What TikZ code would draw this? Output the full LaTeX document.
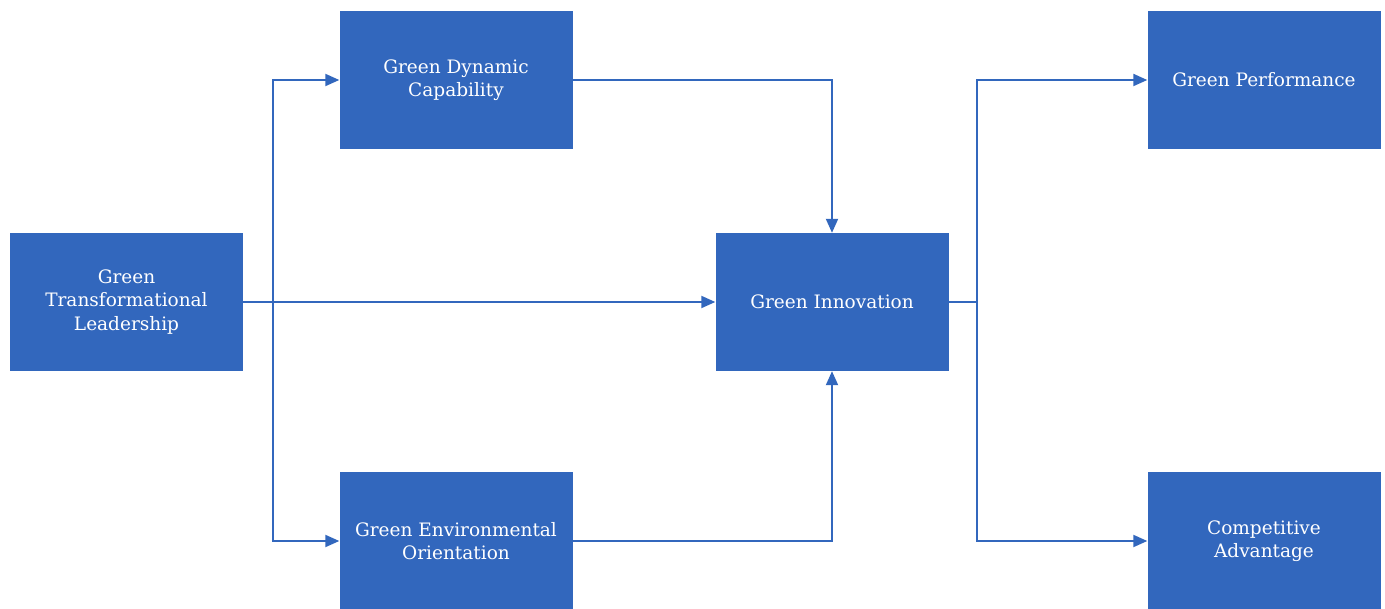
\documentclass[tikz,border=0pt]{standalone}
\usepackage{fontspec}
\setmainfont{DejaVu Serif}
\usetikzlibrary{arrows.meta}
\definecolor{boxblue}{RGB}{50,103,189}

\begin{document}
\begin{tikzpicture}[x=1pt,y=-1pt,
    construct/.style={rectangle,fill=boxblue,draw=none,minimum width=233pt,minimum height=138pt,
      text=white,align=center,font=\fontsize{18.5}{23.5}\selectfont},
    link/.style={draw=boxblue,line width=2pt,-{Triangle[length=14pt,width=12pt]}}]
  \useasboundingbox (0,0) rectangle (1385,609);
  % constructs
  \node [construct] (gtl) at (126.5,302) {Green\\Transformational\\Leadership};
  \node [construct] (gdc) at (456,80) {Green Dynamic\\Capability};
  \node [construct] (geo) at (456,541) {Green Environmental\\Orientation};
  \node [construct] (gi) at (832,302) {Green Innovation};
  \node [construct] (gp) at (1264,80) {Green Performance};
  \node [construct] (ca) at (1264,541) {Competitive\\Advantage};
  % branch points
  \coordinate (split) at (273,302);
  \coordinate (fork) at (977,302);
  % paths
  \draw [link] (gtl.east) -- (gi.west);
  \draw [link] (split) |- (gdc.west);
  \draw [link] (split) |- (geo.west);
  \draw [link] (gdc.east) -| (gi.north);
  \draw [link] (geo.east) -| (gi.south);
  \draw [draw=boxblue,line width=2pt] (gi.east) -- (fork);
  \draw [link] (fork) |- (gp.west);
  \draw [link] (fork) |- (ca.west);
\end{tikzpicture}
\end{document}
